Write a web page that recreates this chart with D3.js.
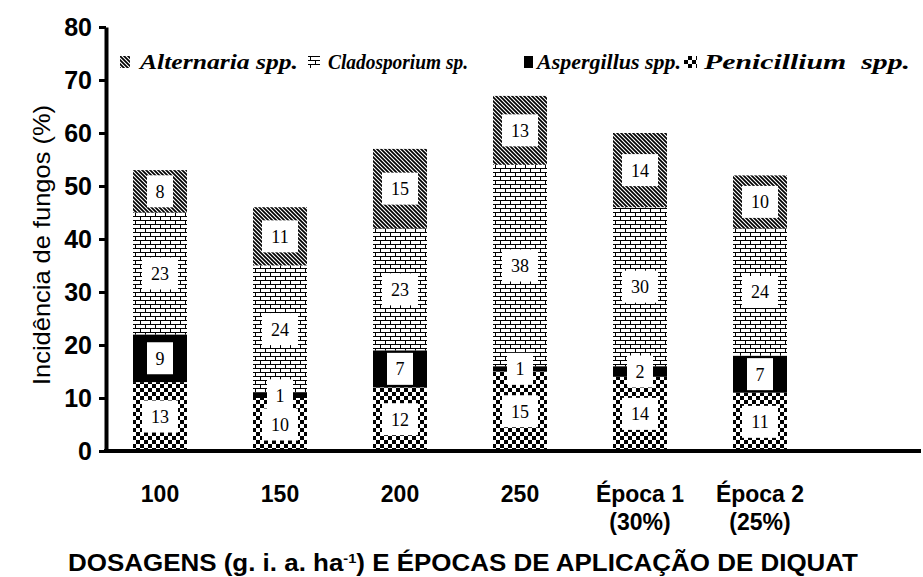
<!DOCTYPE html>
<html>
<head>
<meta charset="utf-8">
<script src="https://cdn.jsdelivr.net/npm/d3@7"></script>
<style>
  body { margin: 0; background: #fff; }
  .tick text { font-family: Arial, 'Liberation Sans', sans-serif; font-weight: bold; }
</style>
</head>
<body>
<svg id="chart"></svg>
<script>
'use strict';

var categories = ['100', '150', '200', '250', 'Época 1|(30%)', 'Época 2|(25%)']
var penicillium = [13, 10, 12, 15, 14, 11]
var aspergillus = [9, 1, 7, 1, 2, 7]
var cladosporium = [23, 24, 23, 38, 30, 24]
var alternaria = [8, 11, 15, 13, 14, 10]
var yTicks = [0, 10, 20, 30, 40, 50, 60, 70, 80]

var keys = ['penicillium', 'aspergillus', 'cladosporium', 'alternaria']
var legendNames = {
  alternaria: 'Alternaria spp.',
  cladosporium: 'Cladosporium sp.',
  aspergillus: 'Aspergillus spp.',
  penicillium: 'Penicillium  spp.'
}

var width = 923,
  height = 577

var rows = categories.map(function(c, i) {
  return {
    cat: c,
    penicillium: penicillium[i],
    aspergillus: aspergillus[i],
    cladosporium: cladosporium[i],
    alternaria: alternaria[i]
  }
})

var svg = d3.select('#chart')
  .attr('width', width)
  .attr('height', height)

// patterns
var defs = svg.append('defs')

var pDiag = defs.append('pattern')
  .attr('id', 'p-alternaria')
  .attr('patternUnits', 'userSpaceOnUse')
  .attr('width', 4).attr('height', 4)
pDiag.append('rect').attr('width', 4).attr('height', 4).attr('fill', '#fff')
pDiag.append('path')
  .attr('d', 'M-1,-1 L5,5 M-1,3 L1,5 M3,-1 L5,1')
  .attr('stroke', '#000')
  .attr('stroke-width', 1.7)

var pBrick = defs.append('pattern')
  .attr('id', 'p-cladosporium')
  .attr('patternUnits', 'userSpaceOnUse')
  .attr('width', 10).attr('height', 8)
pBrick.append('rect').attr('width', 10).attr('height', 8).attr('fill', '#fff')
pBrick.append('path')
  .attr('d', 'M0,0.5 H10 M0,4.5 H10 M0.5,0 V4.5 M5.5,4.5 V8')
  .attr('stroke', '#000')
  .attr('stroke-width', 1)
  .attr('shape-rendering', 'crispEdges')
  .attr('fill', 'none')

var pChk = defs.append('pattern')
  .attr('id', 'p-penicillium')
  .attr('patternUnits', 'userSpaceOnUse')
  .attr('width', 8).attr('height', 8)
pChk.append('rect').attr('width', 8).attr('height', 8).attr('fill', '#fff')
pChk.append('rect').attr('width', 4).attr('height', 4).attr('fill', '#000')
pChk.append('rect').attr('x', 4).attr('y', 4).attr('width', 4).attr('height', 4).attr('fill', '#000')

var fills = {
  alternaria: 'url(#p-alternaria)',
  cladosporium: 'url(#p-cladosporium)',
  aspergillus: '#000',
  penicillium: 'url(#p-penicillium)'
}

var x = d3.scaleBand()
  .domain(categories)
  .range([100, 820])
  .paddingInner(0.55)
  .paddingOuter(0.275)

var y = d3.scaleLinear()
  .domain([0, 80])
  .range([451, 27])

var series = d3.stack().keys(keys)(rows)

var g = svg.append('g')

series.forEach(function(s) {
  g.selectAll('rect.' + s.key)
    .data(s)
    .enter().append('rect')
    .attr('class', s.key)
    .attr('x', function(d) { return x(d.data.cat) })
    .attr('width', x.bandwidth())
    .attr('y', function(d) { return y(d[1]) })
    .attr('height', function(d) { return y(d[0]) - y(d[1]) })
    .attr('fill', fills[s.key])
})

// value labels
series.forEach(function(s) {
  var lab = g.selectAll('g.lab-' + s.key)
    .data(s)
    .enter().append('g')
    .attr('transform', function(d) {
      return 'translate(' + (x(d.data.cat) + x.bandwidth() / 2) + ',' + y((d[0] + d[1]) / 2) + ')'
    })
  lab.append('rect')
    .attr('x', function(d) { return String(d[1] - d[0]).length > 1 ? -18 : -13 })
    .attr('width', function(d) { return String(d[1] - d[0]).length > 1 ? 36 : 26 })
    .attr('y', -16)
    .attr('height', 32)
    .attr('fill', '#fff')
  lab.append('text')
    .attr('text-anchor', 'middle')
    .attr('dy', '0.36em')
    .style('font-family', "'Liberation Serif', 'Times New Roman', serif")
    .style('font-size', '18px')
    .text(function(d) { return d[1] - d[0] })
})

// axes
var yAxisG = svg.append('g')
  .attr('transform', 'translate(106,0)')
  .call(d3.axisLeft(y).tickValues(yTicks).tickSize(7).tickSizeOuter(0).tickPadding(7))
yAxisG.select('.domain').attr('stroke-width', 4)
yAxisG.selectAll('.tick line').attr('stroke-width', 3)
yAxisG.selectAll('.tick text').style('font-size', '25px')

svg.append('line')
  .attr('x1', 104).attr('x2', 921)
  .attr('y1', y(0)).attr('y2', y(0))
  .attr('stroke', '#000')
  .attr('stroke-width', 4)

// x labels
var xl = svg.append('g')
  .selectAll('text')
  .data(categories)
  .enter().append('text')
  .attr('text-anchor', 'middle')
  .attr('y', 502)
  .style('font-family', "Arial, 'Liberation Sans', sans-serif")
  .style('font-weight', 'bold')
  .style('font-size', '23px')
xl.selectAll('tspan')
  .data(function(d) { return d.split('|').map(function(t) { return { t: t, c: d } }) })
  .enter().append('tspan')
  .attr('x', function(d) { return x(d.c) + x.bandwidth() / 2 })
  .attr('dy', function(d, i) { return i ? 28 : 0 })
  .text(function(d) { return d.t })

// axis titles
svg.append('text')
  .attr('transform', 'translate(50,245) rotate(-90)')
  .attr('text-anchor', 'middle')
  .attr('textLength', 280)
  .attr('lengthAdjust', 'spacingAndGlyphs')
  .style('font-family', "Arial, 'Liberation Sans', sans-serif")
  .style('font-size', '24px')
  .text('Incidência de fungos (%)')

var xt = svg.append('text')
  .attr('x', 68)
  .attr('y', 571)
  .attr('textLength', 790)
  .attr('lengthAdjust', 'spacingAndGlyphs')
  .style('font-family', "Arial, 'Liberation Sans', sans-serif")
  .style('font-weight', 'bold')
  .style('font-size', '23px')
xt.append('tspan').text('DOSAGENS (g. i. a. ha')
xt.append('tspan').attr('dy', -8).style('font-size', '13px').text('-1')
xt.append('tspan').attr('dy', 8).text(') E ÉPOCAS DE APLICAÇÃO DE DIQUAT')

// legend
var legendItems = [
  { key: 'alternaria', sx: 120, sw: 10, tx: 140, tw: 158 },
  { key: 'cladosporium', sx: 308, sw: 12, tx: 328, tw: 140 },
  { key: 'aspergillus', sx: 524, sw: 9, tx: 537, tw: 144 },
  { key: 'penicillium', sx: 684, sw: 13, tx: 704, tw: 206 }
]
var lg = svg.append('g').selectAll('g')
  .data(legendItems)
  .enter().append('g')
lg.append('rect')
  .attr('x', function(d) { return d.sx })
  .attr('y', 56)
  .attr('width', function(d) { return d.sw })
  .attr('height', 12)
  .attr('fill', function(d) { return fills[d.key] })
lg.append('text')
  .attr('x', function(d) { return d.tx })
  .attr('y', 69)
  .attr('textLength', function(d) { return d.tw })
  .attr('lengthAdjust', 'spacingAndGlyphs')
  .style('font-family', "'Liberation Serif', 'Times New Roman', serif")
  .style('font-style', 'italic')
  .style('font-weight', 'bold')
  .style('font-size', '21px')
  .style('white-space', 'pre')
  .text(function(d) { return legendNames[d.key] })
</script>
</body>
</html>
